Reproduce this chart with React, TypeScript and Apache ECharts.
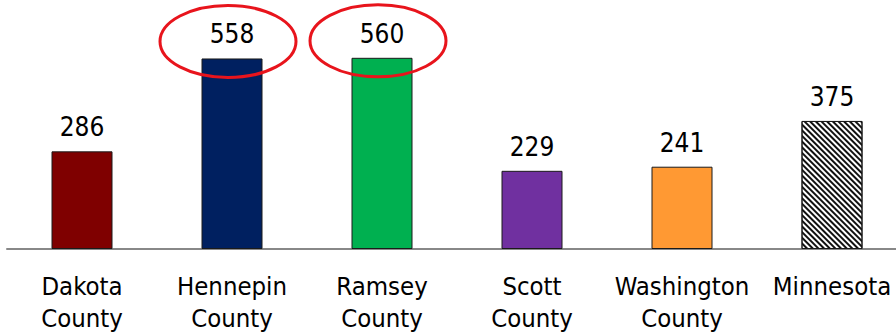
import React, { useEffect, useRef } from "react";
import * as echarts from "echarts";

const categories = ["Dakota\nCounty", "Hennepin\nCounty", "Ramsey\nCounty", "Scott\nCounty", "Washington\nCounty", "Minnesota"];
const values = [286, 558, 560, 229, 241, 375];
const barColors = ["#7f0000", "#002060", "#00b050", "#7030a0", "#ff9933", "#ffffff"];
const circled = [1, 2];

const FONT = "Tahoma, 'DejaVu Sans Condensed', 'Noto Sans', sans-serif";

export default function App() {
  const ref = useRef<HTMLDivElement>(null);

  useEffect(() => {
    document.body.style.margin = "0";
    const chart = echarts.init(ref.current!, null, { renderer: "svg" });
    chart.setOption({
      animation: false,
      grid: {
        left: 7,
        top: 10,
        width: 900,
        height: 239,
        containLabel: false,
        outerBoundsMode: "none",
      },
      xAxis: {
        type: "category",
        data: categories,
        axisTick: { show: false },
        axisLine: { lineStyle: { color: "#888888", width: 2 } },
        axisLabel: {
          color: "#000",
          fontFamily: FONT,
          fontSize: 25.5,
          lineHeight: 32,
          margin: 21,
          interval: 0,
        },
      },
      yAxis: {
        type: "value",
        min: 0,
        max: 700,
        show: false,
        splitLine: { show: false },
      },
      series: [
        {
          type: "bar",
          barWidth: 61,
          data: values.map((v, i) => ({
            value: v,
            itemStyle: {
              color: barColors[i],
              borderColor: "#1a1a1a",
              borderWidth: 1,
              decal:
                i === values.length - 1
                  ? {
                      symbol: "rect",
                      dashArrayX: [1, 0],
                      dashArrayY: [2, 2],
                      rotation: Math.PI / 4,
                      color: "#111",
                    }
                  : "none",
            },
          })),
          label: {
            show: true,
            position: "top",
            distance: 11,
            color: "#000",
            fontFamily: FONT,
            fontSize: 26,
          },
        },
        {
          type: "custom",
          silent: true,
          z: 10,
          data: circled.map((i) => [i, values[i]]),
          renderItem: (params: any, api: any) => {
            const p = api.coord([api.value(0), api.value(1)]);
            return {
              type: "ellipse",
              shape: { cx: p[0] - 4, cy: p[1] - 17, rx: 68, ry: 36 },
              style: { fill: "none", stroke: "#e8141c", lineWidth: 3 },
            };
          },
        },
      ],
    });
    return () => chart.dispose();
  }, []);

  return (
    <div style={{ width: 896, height: 334, overflow: "hidden" }}>
      <div ref={ref} style={{ width: 896, height: 334 }} />
    </div>
  );
}
